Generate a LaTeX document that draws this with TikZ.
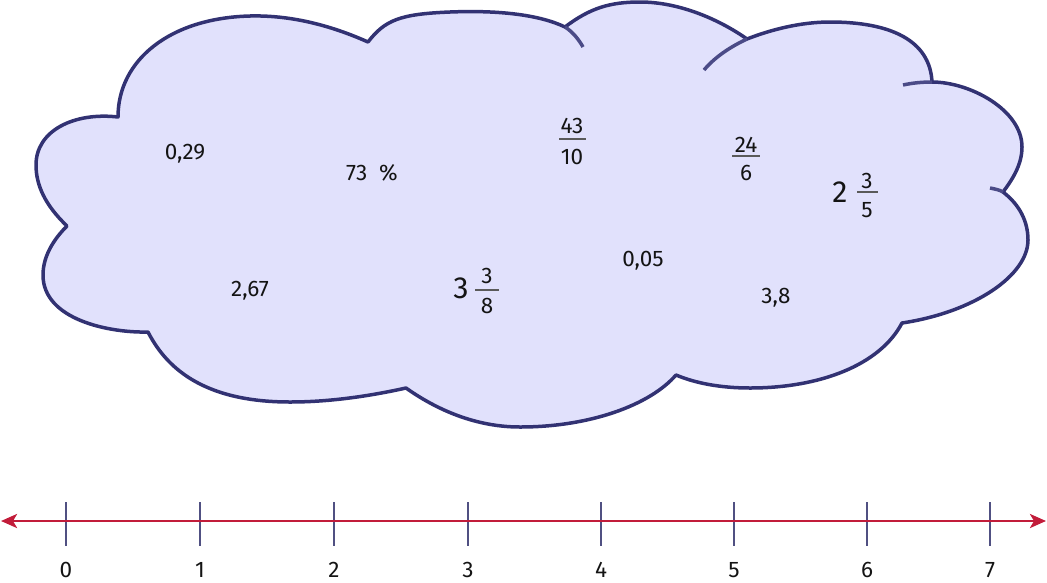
\documentclass[tikz,border=0pt]{standalone}
\usepackage{fontspec}
\setmainfont{Fira Sans}
\usetikzlibrary{arrows.meta}
\definecolor{cloudline}{RGB}{50,50,115}
\definecolor{cloudover}{RGB}{75,75,135}
\definecolor{cloudfill}{RGB}{225,225,252}
\definecolor{axisred}{RGB}{194,28,58}
\definecolor{tickcol}{RGB}{80,80,130}
\definecolor{txt}{RGB}{20,20,20}
\definecolor{barcol}{RGB}{90,90,90}
\begin{document}
\begin{tikzpicture}[x=1pt,y=-1pt,
 num/.style={inner sep=0pt, anchor=base, text=txt, font=\fontsize{22.5}{26}\selectfont},
 big/.style={inner sep=0pt, anchor=base, text=txt, font=\fontsize{30.5}{34}\selectfont},
 fracbar/.style={draw=barcol, line width=1.6pt},
 cloudstroke/.style={draw=cloudline, line width=3.5pt, line join=round},
 overhang/.style={draw=cloudover, line width=3.5pt},
 axisline/.style={draw=axisred, line width=2.8pt, {Stealth[length=16pt,width=14pt,inset=4pt]}-{Stealth[length=16pt,width=14pt,inset=4pt]}},
 tickmark/.style={draw=tickcol, line width=2.8pt},
]
\useasboundingbox (0,0) rectangle (1047,582);
% cloud
\path[fill=cloudfill, cloudstroke] (118,117)
 .. controls (118,60) and (170,18) .. (250,16)
 .. controls (290,15) and (330,25) .. (368,42)
 .. controls (385,20) and (400,14) .. (450,12)
 .. controls (500,10) and (540,15) .. (565,27)
 .. controls (590,8) and (610,2) .. (640,2)
 .. controls (680,2) and (720,20) .. (747,39)
 .. controls (770,30) and (800,22) .. (830,22)
 .. controls (890,22) and (930,40) .. (932,82)
 .. controls (970,82) and (1022,110) .. (1022,147)
 .. controls (1022,165) and (1012,180) .. (1003,192)
 .. controls (1020,205) and (1028,222) .. (1028,240)
 .. controls (1028,275) and (975,312) .. (902,323)
 .. controls (880,365) and (820,388) .. (750,388)
 .. controls (720,388) and (695,383) .. (676,375)
 .. controls (650,405) and (590,427) .. (520,427)
 .. controls (470,427) and (430,405) .. (406,388)
 .. controls (370,396) and (330,402) .. (290,402)
 .. controls (200,402) and (165,365) .. (148,332)
 .. controls (110,333) and (43,320) .. (43,275)
 .. controls (43,255) and (55,238) .. (67,226)
 .. controls (45,205) and (36,185) .. (36,165)
 .. controls (36,130) and (75,112) .. (118,117) -- cycle;
\draw[overhang] (565,27) .. controls (573,32) and (579,40) .. (583,47);
\draw[overhang] (704,70) .. controls (715,57) and (730,47) .. (747,39);
\draw[overhang] (903,85) .. controls (912,83) and (922,82) .. (932,82);
\draw[overhang] (990,188) .. controls (995,189) and (1000,190) .. (1003,192);
% numbers in the cloud
\node[num] (t029) at (185,159) {0,29};
\node[num] (t73) at (372,180) {73\hspace{12pt}\%};
\node[num] (n43) at (572,133) {43};
\node[num] (d10) at (572,164) {10};
\draw[fracbar] (559,139) -- (586,139);
\node[num] (n24) at (746,152) {24};
\node[num] (d6) at (746,180) {6};
\draw[fracbar] (732,156) -- (760,156);
\node[big] (w2) at (840,202) {2};
\node[num] (n3a) at (867,188) {3};
\node[num] (d5) at (867,217) {5};
\draw[fracbar] (857,192) -- (878,192);
\node[num] (t005) at (643,266) {0,05};
\node[num] (t38) at (776,303) {3,8};
\node[num] (t267) at (250,296) {2,67};
\node[big] (w3) at (461,298) {3};
\node[num] (n3b) at (487,283) {3};
\node[num] (d8) at (487,313) {8};
\draw[fracbar] (475,290) -- (499,290);
% number line
\foreach \v/\x in {0/66,1/200,2/334,3/468,4/601,5/734,6/867,7/990} {
  \coordinate (tt\v) at (\x,502);
  \coordinate (tb\v) at (\x,546);
  \draw[tickmark] (tt\v) -- (tb\v);
  \node[num] (lab\v) at (\x,577) {\v};
}
\coordinate (aL) at (1,521);
\coordinate (aR) at (1046,521);
\draw[axisline] (aL) -- (aR);
\end{tikzpicture}
\end{document}
